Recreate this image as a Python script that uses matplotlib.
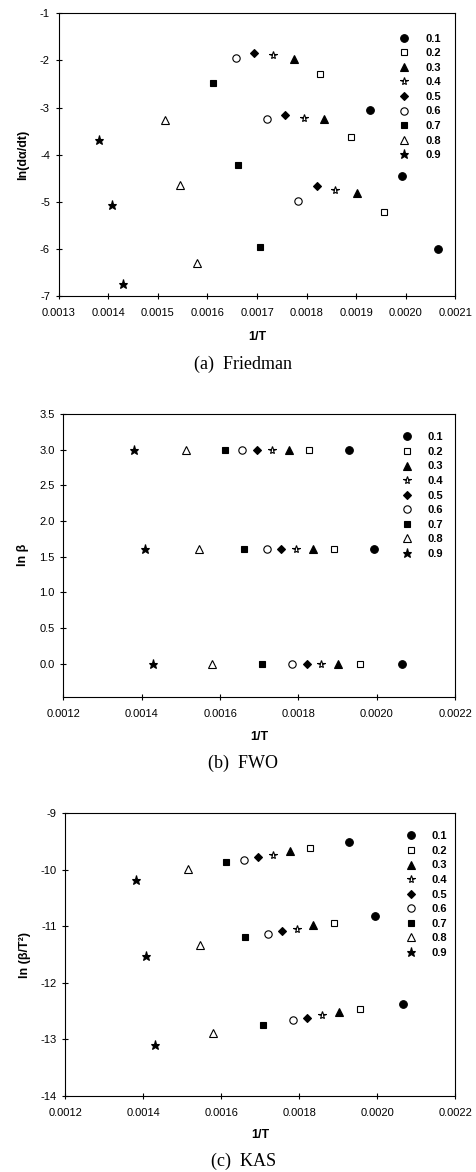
import matplotlib
matplotlib.use("Agg")
import matplotlib.pyplot as plt
from matplotlib.ticker import FormatStrFormatter, MultipleLocator

plt.rcParams['font.family'] = ['Liberation Sans', 'DejaVu Sans']

# ---------------- data ----------------
alphas = ['0.1', '0.2', '0.3', '0.4', '0.5', '0.6', '0.7', '0.8', '0.9']

# 1/T at each conversion for the three heating rates
inv_T_b20 = [0.001928, 0.001828, 0.001775, 0.001732, 0.001693, 0.001657, 0.001612, 0.001514, 0.001381]
inv_T_b5 = [0.001993, 0.001890, 0.001836, 0.001794, 0.001756, 0.001720, 0.001662, 0.001545, 0.001408]
inv_T_b1 = [0.002065, 0.001956, 0.001902, 0.001858, 0.001821, 0.001783, 0.001706, 0.001579, 0.001430]

# Friedman: ln(dα/dt)
fr_b20 = [-3.05, -2.28, -1.98, -1.88, -1.84, -1.94, -2.47, -3.26, -3.68]
fr_b5 = [-4.45, -3.63, -3.25, -3.23, -3.15, -3.24, -4.21, -4.65, -5.07]
fr_b1 = [-6.01, -5.22, -4.81, -4.76, -4.67, -4.98, -5.96, -6.29, -6.74]

# FWO: ln β
ln_beta = [3.00, 1.61, 0.00]

# KAS: ln(β/T²)
kas_b20 = [-9.51, -9.62, -9.67, -9.73, -9.77, -9.82, -9.87, -9.99, -10.18]
kas_b5 = [-10.82, -10.94, -10.98, -11.04, -11.08, -11.13, -11.19, -11.33, -11.52]
kas_b1 = [-12.37, -12.47, -12.51, -12.58, -12.62, -12.66, -12.75, -12.89, -13.10]

# marker styles per conversion: (marker, filled, size)
styles = [('o', True, 5.5), ('s', False, 5.0), ('^', True, 5.3), ('*', False, 5.8),
          ('D', True, 4.2), ('o', False, 5.3), ('s', True, 5.0), ('^', False, 5.3), ('*', True, 6.6)]

W, H = 476, 1172
fig = plt.figure(figsize=(W / 100, H / 100), dpi=100)


def px_axes(left, top, right, bottom):
    return fig.add_axes([left / W, 1 - bottom / H, (right - left) / W, (bottom - top) / H])


def draw(ax, xs_list, ys_list):
    for i, lab in enumerate(alphas):
        m, filled, ms = styles[i]
        xs = [xl[i] for xl in xs_list]
        ys = [yl[i] if isinstance(yl, list) else yl for yl in ys_list]
        ax.plot(xs, ys, linestyle='none', marker=m, markersize=ms,
                markerfacecolor='black' if filled else 'white',
                markeredgecolor='black', markeredgewidth=0.8, label=lab)


def style(ax, xlab, ylab, xlabel_y, ylabel_x, leg_x, leg_y):
    for s in ax.spines.values():
        s.set_linewidth(0.8)
    ax.tick_params(direction='inout', length=4, width=0.8, labelsize=8)
    ax.tick_params(axis='x', pad=7)
    ax.tick_params(axis='y', pad=4.3)
    ax.set_xlabel(xlab, fontsize=9, fontweight='bold', va='center')
    ax.xaxis.set_label_coords(0.5, xlabel_y)
    ax.set_ylabel(ylab, fontsize=9, fontweight='bold', va='center')
    ax.yaxis.set_label_coords(ylabel_x, 0.5)
    leg = ax.legend(loc='upper left', bbox_to_anchor=(leg_x, leg_y), frameon=False,
                    fontsize=8, handlelength=1.0, handletextpad=1.39,
                    labelspacing=0.41, borderpad=0, borderaxespad=0, numpoints=1)
    for t in leg.get_texts():
        t.set_fontweight('bold')


# ---------------- (a) Friedman ----------------
ax1 = px_axes(58.7, 13.3, 455.3, 296)
draw(ax1, [inv_T_b20, inv_T_b5, inv_T_b1], [fr_b20, fr_b5, fr_b1])
ax1.set_xlim(0.0013, 0.0021)
ax1.set_ylim(-7, -1)
ax1.xaxis.set_major_locator(MultipleLocator(0.0001))
ax1.xaxis.set_major_formatter(FormatStrFormatter('%.4f'))
ax1.yaxis.set_major_locator(MultipleLocator(1))
ax1.yaxis.set_major_formatter(FormatStrFormatter('%d'))
style(ax1, '1/T', 'ln(dα/dt)', -0.145, -0.09, 0.8567, 0.928)

# ---------------- (b) FWO ----------------
ax2 = px_axes(63.3, 414, 455.3, 696.7)
draw(ax2, [inv_T_b20, inv_T_b5, inv_T_b1], ln_beta)
ax2.set_xlim(0.0012, 0.0022)
ax2.set_ylim(-0.46, 3.5)
ax2.xaxis.set_major_locator(MultipleLocator(0.0002))
ax2.xaxis.set_major_formatter(FormatStrFormatter('%.4f'))
ax2.set_yticks([0, 0.5, 1.0, 1.5, 2.0, 2.5, 3.0, 3.5])
ax2.yaxis.set_major_formatter(FormatStrFormatter('%.1f'))
style(ax2, '1/T', 'ln β', -0.1415, -0.102, 0.8619, 0.935)

# ---------------- (c) KAS ----------------
ax3 = px_axes(65.3, 813.3, 455.3, 1095.7)
draw(ax3, [inv_T_b20, inv_T_b5, inv_T_b1], [kas_b20, kas_b5, kas_b1])
ax3.set_xlim(0.0012, 0.0022)
ax3.set_ylim(-14, -9)
ax3.xaxis.set_major_locator(MultipleLocator(0.0002))
ax3.xaxis.set_major_formatter(FormatStrFormatter('%.4f'))
ax3.yaxis.set_major_locator(MultipleLocator(1))
ax3.yaxis.set_major_formatter(FormatStrFormatter('%d'))
style(ax3, '1/T', 'ln (β/T²)', -0.139, -0.103, 0.8714, 0.936)

# captions
cap_font = dict(family=['Liberation Serif', 'DejaVu Serif'], fontsize=13, ha='center', va='center')
fig.text(243.5 / W, 1 - 364 / H, '(a)  Friedman', **cap_font)
fig.text(243.5 / W, 1 - 763 / H, '(b)  FWO', **cap_font)
fig.text(243.5 / W, 1 - 1161.7 / H, '(c)  KAS', **cap_font)

fig.savefig('out.png', dpi=100, facecolor='white')
